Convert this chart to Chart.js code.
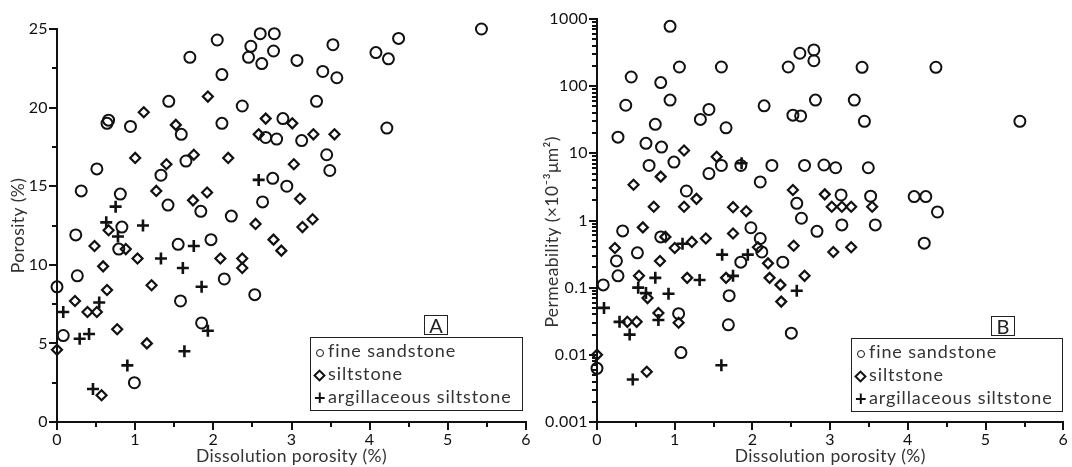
<!DOCTYPE html>
<html>
<head>
<meta charset="utf-8">
<script src="https://cdn.jsdelivr.net/npm/chart.js@4.4.1/dist/chart.umd.min.js"></script>
<style>
  html, body { margin: 0; padding: 0; background: #fff; }
  #wrap { position: relative; width: 1072px; height: 467px; font-family: Lato, sans-serif; }
  .panel { position: absolute; top: 0; width: 536px; height: 467px; }
  .tag { position: absolute; width: 22px; height: 18px; border: 1px solid #222; font-size: 20px; line-height: 19px; text-align: center; color: #222; }
  .legend { position: absolute; border: 1px solid #222; padding: 1px 4px 0 3px; font-size: 18px; color: #333; letter-spacing: 0.9px; }
  .legend div { height: 23px; line-height: 23px; white-space: nowrap; }
  .sym { display: inline-block; width: 11px; text-align: center; margin-right: 3px; vertical-align: middle; position: relative; top: -2px; letter-spacing: 0; }
  .sym.circle span { display: inline-block; width: 6px; height: 6px; border: 1.5px solid #111; border-radius: 50%; }
  .sym.diamond span { display: inline-block; width: 5px; height: 5px; border: 2px solid #111; transform: rotate(45deg); }
  .sym.cross { font-weight: bold; font-size: 20px; color: #111; top: -1px; }
</style>
</head>
<body>
<div id="wrap">
  <div class="panel" style="left:0"><canvas id="chartA" width="536" height="467"></canvas></div>
  <div class="panel" style="left:536px"><canvas id="chartB" width="536" height="467"></canvas></div>
  <div class="tag" style="left:424px;top:315px">A</div>
  <div class="tag" style="left:991px;top:316px">B</div>
  <div class="legend" id="legendA" style="left:310px;top:337px;width:204px;height:71px"></div>
  <div class="legend" id="legendB" style="left:851px;top:338px;width:203px;height:71px"></div>
</div>
<script>
const seriesNames = ['fine sandstone', 'siltstone', 'argillaceous siltstone'];
const xTicks = [0, 1, 2, 3, 4, 5, 6];
const porosityTicks = [0, 5, 10, 15, 20, 25];
const permTicks = [0.001, 0.01, 0.1, 1, 10, 100, 1000];

// panel A: dissolution porosity vs porosity
const sandPoro = [[0.00,8.6],[0.08,5.5],[0.24,11.9],[0.26,9.3],[0.31,14.7],[0.51,16.1],[0.64,19.0],[0.66,19.2],
  [0.79,11.0],[0.81,14.5],[0.83,12.4],[0.94,18.8],[0.99,2.5],[1.33,15.7],[1.42,13.8],[1.43,20.4],[1.55,11.3],
  [1.58,7.7],[1.59,18.3],[1.65,16.6],[1.70,23.2],[1.84,13.4],[1.85,6.3],[1.97,11.6],[2.05,24.3],[2.11,22.1],
  [2.11,19.0],[2.14,9.1],[2.23,13.1],[2.37,20.1],[2.45,23.2],[2.48,23.9],[2.53,8.1],[2.60,24.7],[2.62,22.8],
  [2.63,14.0],[2.67,18.1],[2.76,15.5],[2.77,23.6],[2.78,24.7],[2.81,18.0],[2.89,19.3],[2.94,15.0],[3.07,23.0],
  [3.13,17.9],[3.32,20.4],[3.40,22.3],[3.45,17.0],[3.49,16.0],[3.53,24.0],[3.58,21.9],[4.08,23.5],[4.22,18.7],
  [4.24,23.1],[4.37,24.4],[5.43,25.0]];
const siltPoro = [[0.00,4.6],[0.23,7.7],[0.39,7.0],[0.48,11.2],[0.51,7.0],[0.57,1.7],[0.59,9.9],[0.64,8.4],
  [0.66,12.2],[0.77,5.9],[0.88,11.0],[1.00,16.8],[1.03,10.4],[1.11,19.7],[1.15,5.0],[1.21,8.7],[1.27,14.7],
  [1.40,16.4],[1.52,18.9],[1.74,14.1],[1.75,17.0],[1.92,14.6],[1.93,20.7],[2.09,10.4],[2.19,16.8],[2.37,10.4],
  [2.37,9.8],[2.54,12.6],[2.58,18.3],[2.67,19.3],[2.77,11.6],[2.87,10.9],[3.01,19.0],[3.03,16.4],[3.11,14.2],
  [3.14,12.4],[3.27,12.9],[3.28,18.3],[3.55,18.3]];
const argPoro = [[0.08,7.0],[0.29,5.3],[0.41,5.6],[0.46,2.1],[0.54,7.6],[0.63,12.7],[0.75,13.7],[0.78,11.8],
  [0.90,3.6],[1.10,12.5],[1.33,10.4],[1.61,9.8],[1.63,4.5],[1.75,11.2],[1.85,8.6],[1.93,5.8],[2.58,15.4]];

// panel B: dissolution porosity vs permeability
const sandPerm = [[0.00,0.0063],[0.08,0.11],[0.25,0.25],[0.27,0.15],[0.27,17.4],[0.33,0.70],[0.37,52],[0.44,137],
  [0.52,0.33],[0.63,14.1],[0.67,6.6],[0.75,27],[0.82,113],[0.82,0.57],[0.83,12.4],[0.94,777],[0.94,62],[0.99,7.4],
  [1.05,0.041],[1.06,193],[1.08,0.0108],[1.15,2.75],[1.33,32],[1.44,45],[1.44,5.0],[1.60,193],[1.60,6.6],[1.66,24],
  [1.69,0.028],[1.70,0.076],[1.85,6.6],[1.85,0.24],[1.98,0.78],[2.10,3.75],[2.10,0.54],[2.12,0.34],[2.15,51],
  [2.25,6.6],[2.39,0.24],[2.46,193],[2.50,0.021],[2.52,37],[2.57,1.8],[2.61,309],[2.62,36],[2.63,1.08],[2.67,6.6],
  [2.79,346],[2.79,239],[2.81,62],[2.83,0.69],[2.92,6.7],[3.07,6.1],[3.14,2.4],[3.15,0.86],[3.31,62],[3.41,191],
  [3.44,30],[3.49,6.1],[3.52,2.3],[3.58,0.86],[4.08,2.27],[4.21,0.46],[4.23,2.27],[4.36,191],[4.38,1.34],[5.44,30]];
const siltPerm = [[0.00,0.010],[0.23,0.39],[0.39,0.031],[0.47,3.4],[0.51,0.031],[0.54,0.15],[0.59,0.79],[0.64,0.0056],
  [0.65,0.070],[0.73,1.6],[0.79,0.042],[0.81,0.25],[0.82,4.5],[0.88,0.57],[1.00,0.39],[1.05,0.030],[1.12,11],
  [1.12,1.6],[1.16,0.14],[1.22,0.48],[1.28,2.1],[1.40,0.54],[1.54,8.9],[1.66,0.14],[1.75,1.58],[1.75,0.64],
  [1.92,1.37],[2.07,0.40],[2.20,0.23],[2.22,0.14],[2.36,0.11],[2.37,0.062],[2.52,2.85],[2.53,0.42],[2.67,0.15],
  [2.93,2.45],[3.02,1.6],[3.04,0.34],[3.15,1.6],[3.27,1.6],[3.27,0.40],[3.54,1.6]];
const argPerm = [[0.09,0.050],[0.29,0.031],[0.42,0.020],[0.46,0.0043],[0.53,0.10],[0.63,0.083],[0.75,0.14],
  [0.79,0.033],[0.92,0.081],[1.10,0.45],[1.32,0.13],[1.60,0.0070],[1.61,0.31],[1.75,0.15],[1.86,7.1],[1.94,0.31],
  [2.57,0.09]];

const markers = [
  { pointStyle: 'circle', radius: 5.5, borderWidth: 2 },
  { pointStyle: 'rectRot', radius: 5, borderWidth: 2.2 },
  { pointStyle: 'cross', radius: 6, borderWidth: 2.6 }
];

const toXY = arr => arr.map(p => ({ x: p[0], y: p[1] }));

function makeSets(list) {
  return list.map((arr, i) => ({
    label: seriesNames[i],
    data: toXY(arr),
    pointStyle: markers[i].pointStyle,
    pointRadius: markers[i].radius,
    pointBorderWidth: markers[i].borderWidth,
    pointBorderColor: '#111',
    pointBackgroundColor: 'rgba(0,0,0,0)',
    clip: false
  }));
}

// minor tick positions: halfway on linear axes, 2..9 inside each decade on the log axis
const halves = t => t.slice(0, -1).map((v, i) => (v + t[i + 1]) / 2);
const permMinor = [];
permTicks.slice(0, -1).forEach(t => {
  for (let k = 2; k < 10; k++) permMinor.push(k * t);
});

// short outside ticks between the labelled ones; also a little letter spacing for the canvas text
const minorTicks = {
  id: 'minorTicks',
  beforeDraw(chart) { chart.ctx.letterSpacing = '0.4px'; },
  afterDraw(chart, args, opts) {
    const { ctx, chartArea } = chart;
    const len = opts.length || 5;
    ctx.save();
    ctx.strokeStyle = '#111';
    ctx.lineWidth = 2;
    ctx.beginPath();
    (opts.x || []).forEach(v => {
      const px = Math.round(chart.scales.x.getPixelForValue(v));
      ctx.moveTo(px, chartArea.bottom);
      ctx.lineTo(px, chartArea.bottom + len);
    });
    (opts.y || []).forEach(v => {
      const py = Math.round(chart.scales.y.getPixelForValue(v));
      ctx.moveTo(chartArea.left, py);
      ctx.lineTo(chartArea.left - len, py);
    });
    ctx.stroke();
    ctx.restore();
  }
};

const tickFont = { family: 'Lato', size: 16 };
const titleFont = { family: 'Lato', size: 17.5 };
const axisGrid = { drawOnChartArea: false, drawTicks: true, tickLength: 8, color: '#111', lineWidth: 2 };
const axisBorder = { display: true, color: '#111', width: 2 };

const xScale = {
  type: 'linear', min: 0, max: 6,
  grid: axisGrid, border: axisBorder,
  afterBuildTicks: s => { s.ticks = xTicks.map(v => ({ value: v })); },
  ticks: { autoSkip: false, maxRotation: 0, color: '#111', font: tickFont, padding: 0 },
  title: { display: true, text: 'Dissolution porosity (%)', color: '#333', font: titleFont, padding: { top: 0, bottom: 0 } },
  afterFit: s => { s.height = 45; }
};

new Chart(document.getElementById('chartA'), {
  type: 'scatter',
  data: { datasets: makeSets([sandPoro, siltPoro, argPoro]) },
  plugins: [minorTicks],
  options: {
    responsive: false, animation: false, events: [],
    layout: { padding: { left: 0, top: 29, right: 10, bottom: 0 } },
    plugins: {
      legend: { display: false }, tooltip: { enabled: false },
      minorTicks: { x: halves(xTicks), y: halves(porosityTicks), length: 5 }
    },
    scales: {
      x: xScale,
      y: {
        type: 'linear', min: 0, max: 25,
        grid: axisGrid, border: axisBorder,
        afterBuildTicks: s => { s.ticks = porosityTicks.map(v => ({ value: v })); },
        ticks: { autoSkip: false, color: '#111', font: tickFont, padding: 1 },
        title: { display: true, text: 'Porosity (%)', color: '#333', font: titleFont, padding: { top: 8, bottom: 0 } },
        afterFit: s => { s.width = 57; }
      }
    }
  }
});

new Chart(document.getElementById('chartB'), {
  type: 'scatter',
  data: { datasets: makeSets([sandPerm, siltPerm, argPerm]) },
  plugins: [minorTicks],
  options: {
    responsive: false, animation: false, events: [],
    layout: { padding: { left: 0, top: 19, right: 5, bottom: 0 } },
    plugins: {
      legend: { display: false }, tooltip: { enabled: false },
      minorTicks: { x: halves(xTicks), y: permMinor, length: 5 }
    },
    scales: {
      x: xScale,
      y: {
        type: 'logarithmic', min: 0.001, max: 1000,
        grid: axisGrid, border: axisBorder,
        afterBuildTicks: s => { s.ticks = permTicks.map(v => ({ value: v, major: true })); },
        ticks: { autoSkip: false, color: '#111', font: tickFont, padding: 1,
          callback: v => String(v) },
        title: { display: true, text: 'Permeability (×10⁻³μm²)\u2003\u2002', color: '#333', font: titleFont, padding: { top: 6, bottom: 0 } },
        afterFit: s => { s.width = 61; }
      }
    }
  }
});

// legends
const symClass = ['circle', 'diamond', 'cross'];
['legendA', 'legendB'].forEach(id => {
  const box = document.getElementById(id);
  seriesNames.forEach((name, i) => {
    const row = document.createElement('div');
    const sym = document.createElement('span');
    sym.className = 'sym ' + symClass[i];
    if (i < 2) sym.appendChild(document.createElement('span'));
    else sym.textContent = '+';
    row.appendChild(sym);
    row.appendChild(document.createTextNode(name));
    box.appendChild(row);
  });
});
</script>
</body>
</html>
